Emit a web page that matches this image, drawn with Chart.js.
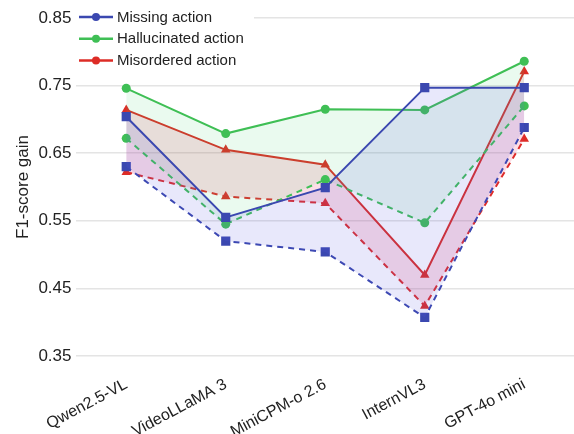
<html>
    <script src="https://cdn.jsdelivr.net/npm/chart.js@4/dist/chart.umd.min.js"></script>
    <script language="javascript" type="text/javascript">

     // models on the x axis
     var categories = ["Qwen2.5-VL", "VideoLLaMA 3", "MiniCPM-o 2.6", "InternVL3", "GPT-4o mini"];
     var seriesNames = ["Missing action", "Hallucinated action", "Misordered action"];
     var yTicks = [0.35, 0.45, 0.55, 0.65, 0.75, 0.85];

     // solid line (upper) and dashed line (lower) for each error type
     var missingHigh = [0.704, 0.555, 0.599, 0.747, 0.747];
     var missingLow  = [0.630, 0.520, 0.504, 0.407, 0.688];
     var hallucHigh  = [0.746, 0.679, 0.715, 0.714, 0.786];
     var hallucLow   = [0.672, 0.545, 0.611, 0.547, 0.720];
     var misordHigh  = [0.714, 0.655, 0.633, 0.470, 0.771];
     var misordLow   = [0.622, 0.586, 0.576, 0.424, 0.671];

     var FONT = "'Liberation Sans', Arial, sans-serif";
     var lineColours = ["#3b48b0", "#3fbf55", "#dd2c26"];
     var fillColours = ["rgba(95,95,225,0.14)", "rgba(60,205,110,0.11)", "rgba(235,50,100,0.16)"];
     var markers = ["rect", "circle", "triangle"];
     var markerSize = [6.5, 4.5, 5.5];

     function makeDataset(values, i, dashed)
     {
	 return {
	     label: seriesNames[i] + (dashed ? " (low)" : ""),
	     data: values,
	     borderColor: lineColours[i],
	     backgroundColor: fillColours[i],
	     borderWidth: 2,
	     borderDash: dashed ? [6, 5] : [],
	     pointStyle: markers[i],
	     pointRadius: markerSize[i],
	     pointBackgroundColor: lineColours[i],
	     pointBorderColor: lineColours[i],
	     pointBorderWidth: 0,
	     fill: dashed ? false : "+1",
	     tension: 0
	 };
     }

     // legend in the top left corner, white box under it
     var legendBox = {
	 id: "legendBox",
	 afterDraw: function(chart) {
	     var ctx = chart.ctx;
	     ctx.save();
	     ctx.fillStyle = "#ffffff";
	     ctx.fillRect(76, 4, 178, 68);
	     for (var i = 0; i < seriesNames.length; i++) {
		 var y = 17 + i * 21.7;
		 ctx.strokeStyle = lineColours[i];
		 ctx.lineWidth = 2.5;
		 ctx.beginPath();
		 ctx.moveTo(79, y);
		 ctx.lineTo(113, y);
		 ctx.stroke();
		 ctx.fillStyle = lineColours[i];
		 ctx.beginPath();
		 ctx.arc(96, y, 4, 0, Math.PI * 2);
		 ctx.fill();
		 ctx.fillStyle = "#222222";
		 ctx.font = "15px " + FONT;
		 ctx.textBaseline = "middle";
		 ctx.fillText(seriesNames[i], 117, y + 0.5);
	     }
	     ctx.restore();
	 }
     };

     function initChart()
     {
	 var ctx = document.getElementById("myChart").getContext("2d");
	 chart = new Chart(ctx, {
	     type: "line",
	     data: {
		 labels: categories,
		 datasets: [
		     makeDataset(missingHigh, 0, false),
		     makeDataset(missingLow, 0, true),
		     makeDataset(hallucHigh, 1, false),
		     makeDataset(hallucLow, 1, true),
		     makeDataset(misordHigh, 2, false),
		     makeDataset(misordLow, 2, true)
		 ]
	     },
	     options: {
		 responsive: false,
		 animation: false,
		 layout: {
		     autoPadding: false,
		     padding: { left: 8, right: 0, top: 18, bottom: 0 }
		 },
		 plugins: {
		     legend: { display: false },
		     tooltip: { enabled: false }
		 },
		 scales: {
		     x: {
			 offset: true,
			 grid: { display: false, offset: true },
			 border: { display: false },
			 ticks: {
			     color: "#222222",
			     font: { family: FONT, size: 16 },
			     minRotation: 28,
			     maxRotation: 28,
			     padding: 11
			 },
			 afterFit: function(axis) {
			     // let the plot run to the right edge, fixed label band
			     axis.paddingRight = 0;
			     axis.paddingLeft = 0;
			     axis.height = 78;
			 }
		     },
		     y: {
			 min: yTicks[0],
			 max: yTicks[yTicks.length - 1],
			 afterBuildTicks: function(axis) {
			     axis.ticks = yTicks.map(function(v) { return { value: v }; });
			 },
			 grid: { color: "#e4e4e4", lineWidth: 1.5, drawTicks: false },
			 border: { display: false },
			 ticks: {
			     color: "#222222",
			     font: { family: FONT, size: 17 },
			     padding: 5,
			     callback: function(v) { return Number(v).toFixed(2); }
			 },
			 title: {
			     display: true,
			     text: "F1-score gain",
			     color: "#222222",
			     font: { family: FONT, size: 17 },
			     padding: { top: 5, bottom: 0 }
			 }
		     }
		 }
	     },
	     plugins: [legendBox]
	 });
     }

     window.onload = initChart;
    </script>

    <head>
	<meta charset="UTF-8">
	<style>
	 body { margin: 0; background: #ffffff; }
	</style>
    </head>
    <title>F1-score gain</title>
    <body>
	<canvas id="myChart" width="574" height="434"></canvas>
    </body>
</html>
